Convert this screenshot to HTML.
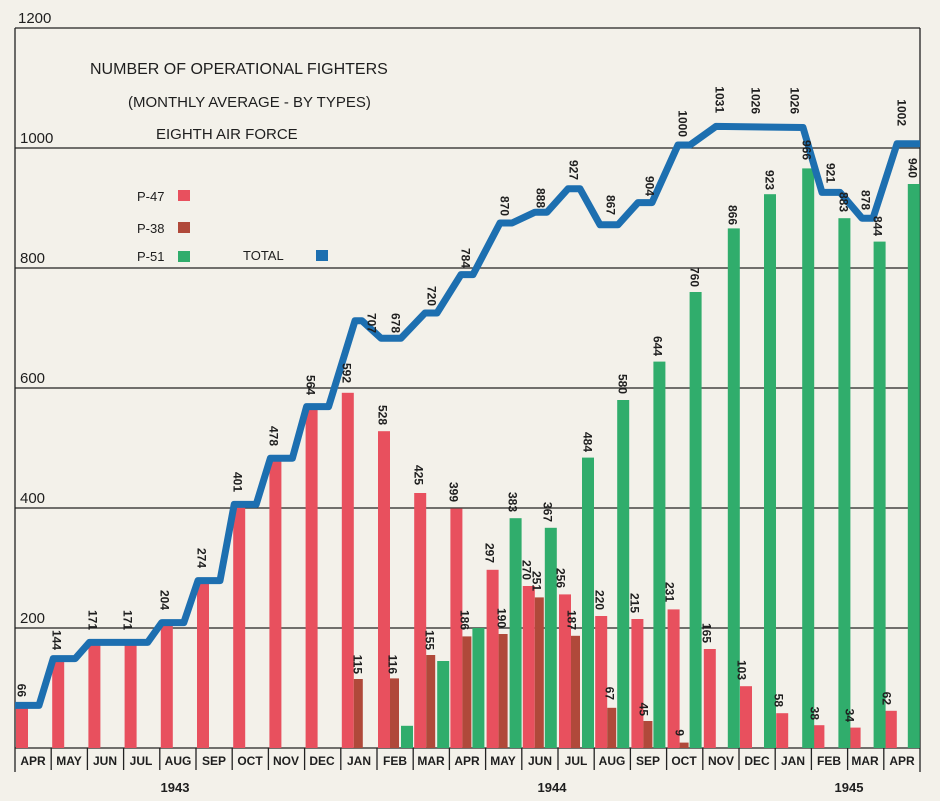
<!DOCTYPE html>
<html><head><meta charset="utf-8"><style>
html,body{margin:0;padding:0;background:#f3f1ea}
svg{display:block}
text{font-family:"Liberation Sans",sans-serif;fill:#1e1e1e}
.l{font-size:12px;font-weight:bold}
.t{font-size:15px}
.m{font-size:12px;font-weight:bold}
</style></head><body>
<svg width="940" height="801" viewBox="0 0 940 801" xmlns="http://www.w3.org/2000/svg">
<rect width="940" height="801" fill="#f3f1ea"/>
<g stroke="#222" stroke-width="1.3">
<line x1="15" y1="28" x2="920" y2="28"/>
<line x1="15" y1="148" x2="920" y2="148"/>
<line x1="15" y1="268" x2="920" y2="268"/>
<line x1="15" y1="388" x2="920" y2="388"/>
<line x1="15" y1="508" x2="920" y2="508"/>
<line x1="15" y1="628" x2="920" y2="628"/>
<line x1="15" y1="748" x2="920" y2="748"/>
<line x1="15" y1="28" x2="15" y2="772"/>
<line x1="920" y1="28" x2="920" y2="772"/>
</g>
<g stroke="#222" stroke-width="1.3">
<line x1="51.2" y1="748" x2="51.2" y2="770"/><line x1="87.4" y1="748" x2="87.4" y2="770"/><line x1="123.6" y1="748" x2="123.6" y2="770"/><line x1="159.8" y1="748" x2="159.8" y2="770"/><line x1="196" y1="748" x2="196" y2="770"/><line x1="232.2" y1="748" x2="232.2" y2="770"/><line x1="268.4" y1="748" x2="268.4" y2="770"/><line x1="304.6" y1="748" x2="304.6" y2="770"/><line x1="340.8" y1="748" x2="340.8" y2="770"/><line x1="377" y1="748" x2="377" y2="770"/><line x1="413.2" y1="748" x2="413.2" y2="770"/><line x1="449.4" y1="748" x2="449.4" y2="770"/><line x1="485.6" y1="748" x2="485.6" y2="770"/><line x1="521.8" y1="748" x2="521.8" y2="770"/><line x1="558" y1="748" x2="558" y2="770"/><line x1="594.2" y1="748" x2="594.2" y2="770"/><line x1="630.4" y1="748" x2="630.4" y2="770"/><line x1="666.6" y1="748" x2="666.6" y2="770"/><line x1="702.8" y1="748" x2="702.8" y2="770"/><line x1="739" y1="748" x2="739" y2="770"/><line x1="775.2" y1="748" x2="775.2" y2="770"/><line x1="811.4" y1="748" x2="811.4" y2="770"/><line x1="847.6" y1="748" x2="847.6" y2="770"/><line x1="883.8" y1="748" x2="883.8" y2="770"/>
</g>
<g class="t">
<text x="18" y="23">1200</text><text x="20" y="143">1000</text><text x="20" y="263">800</text><text x="20" y="383">600</text><text x="20" y="503">400</text><text x="20" y="623">200</text>
<text x="90" y="74" style="font-size:16px">NUMBER OF OPERATIONAL FIGHTERS</text>
<text x="128" y="107" style="font-size:15px">(MONTHLY AVERAGE - BY TYPES)</text>
<text x="156" y="139" style="font-size:15px">EIGHTH AIR FORCE</text>
<text x="137" y="201" style="font-size:13px">P-47</text>
<text x="137" y="233" style="font-size:13px">P-38</text>
<text x="137" y="261" style="font-size:13px">P-51</text>
<text x="243" y="260" style="font-size:13px">TOTAL</text>
</g>
<rect x="178" y="190" width="12" height="11" fill="#e8505e"/>
<rect x="178" y="222" width="12" height="11" fill="#b0493a"/>
<rect x="178" y="251" width="12" height="11" fill="#30ad6c"/>
<rect x="316" y="250" width="12" height="11" fill="#1d6fb0"/>
<g class="m" text-anchor="middle">
<text x="33" y="765">APR</text><text x="69" y="765">MAY</text><text x="105" y="765">JUN</text><text x="141" y="765">JUL</text><text x="178" y="765">AUG</text><text x="214" y="765">SEP</text><text x="250" y="765">OCT</text><text x="286" y="765">NOV</text><text x="322" y="765">DEC</text><text x="359" y="765">JAN</text><text x="395" y="765">FEB</text><text x="431" y="765">MAR</text><text x="467" y="765">APR</text><text x="503" y="765">MAY</text><text x="540" y="765">JUN</text><text x="576" y="765">JUL</text><text x="612" y="765">AUG</text><text x="648" y="765">SEP</text><text x="684" y="765">OCT</text><text x="721" y="765">NOV</text><text x="757" y="765">DEC</text><text x="793" y="765">JAN</text><text x="829" y="765">FEB</text><text x="865" y="765">MAR</text><text x="902" y="765">APR</text>
<text x="175" y="792" style="font-size:13px">1943</text><text x="552" y="792" style="font-size:13px">1944</text><text x="849" y="792" style="font-size:13px">1945</text>
</g>
<g fill="#e8505e">
<rect x="16" y="708.4" width="12" height="39.6"/><rect x="52.2" y="661.6" width="12" height="86.4"/><rect x="88.4" y="645.4" width="12" height="102.6"/><rect x="124.6" y="645.4" width="12" height="102.6"/><rect x="160.8" y="625.6" width="12" height="122.4"/><rect x="197" y="583.6" width="12" height="164.4"/><rect x="233.2" y="507.4" width="12" height="240.6"/><rect x="269.4" y="461.2" width="12" height="286.8"/><rect x="305.6" y="409.6" width="12" height="338.4"/><rect x="341.8" y="392.8" width="12" height="355.2"/><rect x="378" y="431.2" width="12" height="316.8"/><rect x="414.2" y="493" width="12" height="255"/><rect x="450.4" y="508.6" width="12" height="239.4"/><rect x="486.6" y="569.8" width="12" height="178.2"/><rect x="522.8" y="586" width="12" height="162"/><rect x="559" y="594.4" width="12" height="153.6"/><rect x="595.2" y="616" width="12" height="132"/><rect x="631.4" y="619" width="12" height="129"/><rect x="667.6" y="609.4" width="12" height="138.6"/><rect x="703.8" y="649" width="12" height="99"/><rect x="740" y="686.2" width="12" height="61.8"/><rect x="776.2" y="713.2" width="12" height="34.8"/><rect x="812.4" y="725.2" width="12" height="22.8"/><rect x="848.6" y="727.6" width="12" height="20.4"/><rect x="884.8" y="710.8" width="12" height="37.2"/>
</g>
<g fill="#b0493a">
<rect x="353.8" y="679" width="9" height="69"/><rect x="390" y="678.4" width="9" height="69.6"/><rect x="426.2" y="655" width="9" height="93"/><rect x="462.4" y="636.4" width="9" height="111.6"/><rect x="498.6" y="634" width="9" height="114"/><rect x="534.8" y="597.4" width="9" height="150.6"/><rect x="571" y="635.8" width="9" height="112.2"/><rect x="607.2" y="707.8" width="9" height="40.2"/><rect x="643.4" y="721" width="9" height="27"/><rect x="679.6" y="742.6" width="9" height="5.4"/>
</g>
<g fill="#30ad6c">
<rect x="401" y="725.8" width="12" height="22.2"/><rect x="437.2" y="661" width="12" height="87"/><rect x="472.4" y="628" width="12" height="120"/><rect x="509.6" y="518.2" width="12" height="229.8"/><rect x="544.8" y="527.8" width="12" height="220.2"/><rect x="582" y="457.6" width="12" height="290.4"/><rect x="617.2" y="400" width="12" height="348"/><rect x="653.4" y="361.6" width="12" height="386.4"/><rect x="689.6" y="292" width="12" height="456"/><rect x="727.8" y="228.4" width="12" height="519.6"/><rect x="764" y="194.2" width="12" height="553.8"/><rect x="802.2" y="168.4" width="12" height="579.6"/><rect x="838.4" y="218.2" width="12" height="529.8"/><rect x="873.6" y="241.6" width="12" height="506.4"/><rect x="907.8" y="184" width="12" height="564"/>
</g>
<polyline fill="none" stroke="#1d6fb0" stroke-width="7" stroke-linejoin="round" points="15,705.4 39,705.4 53.2,658.6 75.2,658.6 89.4,642.4 147.6,642.4 161.8,622.6 183.8,622.6 198,580.6 220,580.6 234.2,504.4 256.2,504.4 270.4,458.2 292.4,458.2 306.6,406.6 328.6,406.6 355,320.8 362,320.8 381,338.2 401,338.2 425,313 437,313 461,274.6 473,274.6 500,223 512,223 535,212.2 547,212.2 568,188.8 580,188.8 600,224.8 618,224.8 638,202.6 652,202.6 678,145 690,145 716,126.4 803,127.5 822,192.4 840,192.4 862,218.2 873,218.2 897,143.8 920,143.8"/>
<g class="l" text-anchor="end">
<text transform="translate(17.5,697) rotate(90)">66</text>
<text transform="translate(52.5,650) rotate(90)">144</text>
<text transform="translate(88.5,630) rotate(90)">171</text>
<text transform="translate(123.5,630) rotate(90)">171</text>
<text transform="translate(160.5,610) rotate(90)">204</text>
<text transform="translate(197.5,568) rotate(90)">274</text>
<text transform="translate(233.5,492) rotate(90)">401</text>
<text transform="translate(269.5,446) rotate(90)">478</text>
<text transform="translate(306.5,395) rotate(90)">564</text>
<text transform="translate(367.5,333) rotate(90)">707</text>
<text transform="translate(391.5,333) rotate(90)">678</text>
<text transform="translate(427.5,306) rotate(90)">720</text>
<text transform="translate(461.5,268) rotate(90)">784</text>
<text transform="translate(500.5,216) rotate(90)">870</text>
<text transform="translate(536.5,208) rotate(90)">888</text>
<text transform="translate(569.5,180) rotate(90)">927</text>
<text transform="translate(606.5,215) rotate(90)">867</text>
<text transform="translate(645.5,196) rotate(90)">904</text>
<text transform="translate(678.5,137) rotate(90)">1000</text>
<text transform="translate(715.5,113) rotate(90)">1031</text>
<text transform="translate(751.5,114) rotate(90)">1026</text>
<text transform="translate(790.5,114) rotate(90)">1026</text>
<text transform="translate(826.5,183) rotate(90)">921</text>
<text transform="translate(861.5,210) rotate(90)">878</text>
<text transform="translate(897.5,126) rotate(90)">1002</text>
<text transform="translate(342.5,383) rotate(90)">592</text>
<text transform="translate(378.5,425) rotate(90)">528</text>
<text transform="translate(414.5,485) rotate(90)">425</text>
<text transform="translate(449.5,502) rotate(90)">399</text>
<text transform="translate(485.5,563) rotate(90)">297</text>
<text transform="translate(522.5,580) rotate(90)">270</text>
<text transform="translate(556.5,588) rotate(90)">256</text>
<text transform="translate(595.5,610) rotate(90)">220</text>
<text transform="translate(630.5,613) rotate(90)">215</text>
<text transform="translate(665.5,602) rotate(90)">231</text>
<text transform="translate(702.5,643) rotate(90)">165</text>
<text transform="translate(737.5,680) rotate(90)">103</text>
<text transform="translate(774.5,707) rotate(90)">58</text>
<text transform="translate(810.5,720) rotate(90)">38</text>
<text transform="translate(845.5,722) rotate(90)">34</text>
<text transform="translate(882.5,705) rotate(90)">62</text>
<text transform="translate(353.5,674) rotate(90)">115</text>
<text transform="translate(388.5,674) rotate(90)">116</text>
<text transform="translate(425.5,650) rotate(90)">155</text>
<text transform="translate(460.5,630) rotate(90)">186</text>
<text transform="translate(497.5,628) rotate(90)">190</text>
<text transform="translate(532.5,591) rotate(90)">251</text>
<text transform="translate(567.5,630) rotate(90)">187</text>
<text transform="translate(605.5,700) rotate(90)">67</text>
<text transform="translate(639.5,716) rotate(90)">45</text>
<text transform="translate(675.5,736) rotate(90)">9</text>
<text transform="translate(508.5,512) rotate(90)">383</text>
<text transform="translate(543.5,522) rotate(90)">367</text>
<text transform="translate(583.5,452) rotate(90)">484</text>
<text transform="translate(618.5,394) rotate(90)">580</text>
<text transform="translate(653.5,356) rotate(90)">644</text>
<text transform="translate(690.5,287) rotate(90)">760</text>
<text transform="translate(728.5,225) rotate(90)">866</text>
<text transform="translate(765.5,190) rotate(90)">923</text>
<text transform="translate(802.5,160) rotate(90)">966</text>
<text transform="translate(839.5,212) rotate(90)">883</text>
<text transform="translate(873.5,236) rotate(90)">844</text>
<text transform="translate(908.5,178) rotate(90)">940</text>
</g>
</svg>
</body></html>
